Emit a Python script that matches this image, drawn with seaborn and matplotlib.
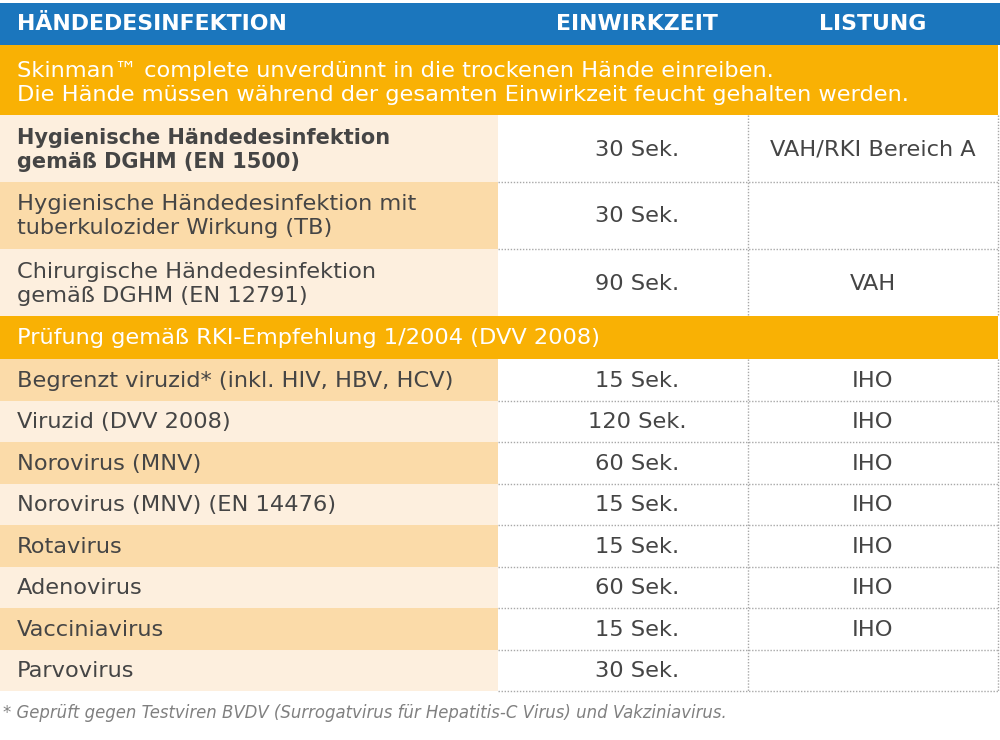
import numpy as np
import matplotlib.pyplot as plt
import seaborn as sns

# table content
columns = ["HÄNDEDESINFEKTION", "EINWIRKZEIT", "LISTUNG"]
intro = ["Skinman™ complete unverdünnt in die trockenen Hände einreiben.",
         "Die Hände müssen während der gesamten Einwirkzeit feucht gehalten werden."]
section1_labels = ["Hygienische Händedesinfektion\ngemäß DGHM (EN 1500)",
                   "Hygienische Händedesinfektion mit\ntuberkulozider Wirkung (TB)",
                   "Chirurgische Händedesinfektion\ngemäß DGHM (EN 12791)"]
section1_times = ["30 Sek.", "30 Sek.", "90 Sek."]
section1_lists = ["VAH/RKI Bereich A", "", "VAH"]
section2_title = "Prüfung gemäß RKI-Empfehlung 1/2004 (DVV 2008)"
section2_labels = ["Begrenzt viruzid* (inkl. HIV, HBV, HCV)", "Viruzid (DVV 2008)",
                   "Norovirus (MNV)", "Norovirus (MNV) (EN 14476)", "Rotavirus",
                   "Adenovirus", "Vacciniavirus", "Parvovirus"]
section2_times = ["15 Sek.", "120 Sek.", "60 Sek.", "15 Sek.", "15 Sek.",
                  "60 Sek.", "15 Sek.", "30 Sek."]
section2_lists = ["IHO", "IHO", "IHO", "IHO", "IHO", "IHO", "IHO", ""]
footnote = "* Geprüft gegen Testviren BVDV (Surrogatvirus für Hepatitis-C Virus) und Vakziniavirus."

# colours
BLUE = "#1b76bd"
ORANGE = "#f9b104"
LIGHT = "#fdefde"
DARK = "#fbdba9"
TEXT = "#454545"
LINE = "#a8a8a8"

sns.set_theme(style="white")
plt.rcParams["font.family"] = ["DejaVu Sans"]

fig = plt.figure(figsize=(10, 7.4), dpi=100)
ax = fig.add_axes([0, 0, 1, 1])
ax.set_xlim(0, 1000)
ax.set_ylim(740, 0)
ax.axis("off")

# layout (pixels)
X0, X1, X2, X3 = 0, 498, 748, 998
c_time, c_list = 637, 873
tx = 17
FS = 16.2

# header
ax.barh(24, 1000, height=42, left=0, color=BLUE, lw=0)
for x, name, ha in [(tx, columns[0], "left"), (c_time, columns[1], "center"),
                    (c_list, columns[2], "center")]:
    ax.text(x, 24, name, color="white", fontsize=15.8, fontweight="bold",
            va="center", ha=ha)

# intro band
ax.barh(80, X3, height=70, left=0, color=ORANGE, lw=0)
ax.text(tx, 83, "\n".join(intro), color="white", fontsize=16.2,
        va="center", linespacing=1.22)

rows = []
top = 115
for k, (lab, t, l) in enumerate(zip(section1_labels, section1_times, section1_lists)):
    rows.append((top, 67, lab, t, l, k == 0))
    top += 67
sec_top = top
sec_h = 43
top += sec_h
for lab, t, l in zip(section2_labels, section2_times, section2_lists):
    rows.append((top, 41.5, lab, t, l, False))
    top += 41.5
bottom = top

shades = [LIGHT, DARK, LIGHT, DARK, LIGHT, DARK, LIGHT, DARK, LIGHT, DARK, LIGHT]
for i, (y, h, lab, t, l, bold) in enumerate(rows):
    yc = y + h / 2
    ax.barh(yc, X1, height=h, left=0, color=shades[i], lw=0)
    ax.text(tx, yc + 1, lab, color=TEXT, fontsize=15.0 if bold else FS,
            fontweight="bold" if bold else "normal", va="center", linespacing=1.25)
    ax.text(c_time, yc + 1, t, color=TEXT, fontsize=FS, va="center", ha="center")
    if l:
        ax.text(c_list, yc + 1, l, color=TEXT, fontsize=FS, va="center", ha="center")

# section header
ax.barh(sec_top + sec_h / 2, X3, height=sec_h, left=0, color=ORANGE, lw=0)
ax.text(tx, sec_top + sec_h / 2 + 1, section2_title, color="white", fontsize=FS,
        va="center")

# dotted grid lines
dots = (0, (1, 1.2))
bounds1 = [r[0] for r in rows[1:3]]
bounds2 = [r[0] for r in rows[4:]] + [bottom]
ax.hlines(bounds1 + bounds2, X1, X3, colors=LINE, linestyles=dots, lw=1)
ax.vlines([X2, X3], 115, sec_top, colors=LINE, linestyles=dots, lw=1)
ax.vlines([X2, X3], sec_top + sec_h, bottom, colors=LINE, linestyles=dots, lw=1)

# footnote
ax.text(3, 713, footnote, color="#808080", fontsize=11.9, style="italic",
        va="center", family=["DejaVu Sans Condensed", "DejaVu Sans"])

fig.savefig("out.png", dpi=100, facecolor="white")
